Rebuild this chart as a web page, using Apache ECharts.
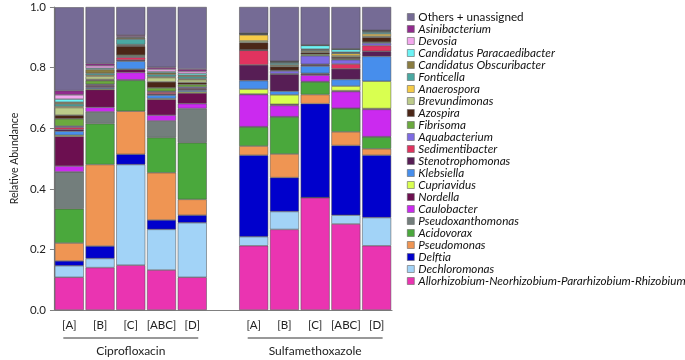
<!DOCTYPE html>
<html>
<head>
<meta charset="utf-8">
<script src="https://cdn.jsdelivr.net/npm/echarts@6/dist/echarts.min.js"></script>
<style>
  html, body { margin: 0; background: #fff; }
  #chart { width: 685px; height: 360px; }
</style>
</head>
<body>
<div id="chart"></div>
<script>
const samples = ['[A]', '[B]', '[C]', '[ABC]', '[D]']
const groups = ['Ciprofloxacin', 'Sulfamethoxazole']
const yTicks = [0, 0.2, 0.4, 0.6, 0.8, 1.0]

// each array: Ciprofloxacin A, B, C, ABC, D, then Sulfamethoxazole A, B, C, ABC, D
const allorhizobium     = [0.108, 0.140, 0.148, 0.132, 0.108, 0.212, 0.266, 0.371, 0.284, 0.212]
const dechloromonas     = [0.038, 0.030, 0.332, 0.134, 0.180, 0.030, 0.059, 0.000, 0.029, 0.093]
const delftia           = [0.016, 0.041, 0.034, 0.031, 0.025, 0.269, 0.112, 0.310, 0.230, 0.206]
const pseudomonas       = [0.059, 0.269, 0.142, 0.156, 0.052, 0.030, 0.078, 0.030, 0.045, 0.021]
const acidovorax        = [0.113, 0.135, 0.102, 0.116, 0.187, 0.063, 0.122, 0.042, 0.077, 0.039]
const pseudoxanthomonas = [0.122, 0.039, 0.002, 0.055, 0.113, 0.001, 0.001, 0.001, 0.001, 0.001]
const caulobacter       = [0.019, 0.015, 0.024, 0.019, 0.016, 0.106, 0.037, 0.021, 0.055, 0.090]
const nordella          = [0.098, 0.058, 0.009, 0.052, 0.035, 0.002, 0.004, 0.004, 0.003, 0.003]
const cupriavidus       = [0.004, 0.003, 0.002, 0.003, 0.004, 0.016, 0.031, 0.002, 0.015, 0.090]
const klebsiella        = [0.013, 0.004, 0.026, 0.011, 0.005, 0.028, 0.012, 0.024, 0.022, 0.082]
const stenotrophomonas  = [0.006, 0.005, 0.004, 0.004, 0.004, 0.052, 0.056, 0.004, 0.035, 0.017]
const sedimentibacter   = [0.007, 0.003, 0.009, 0.006, 0.003, 0.048, 0.002, 0.002, 0.016, 0.019]
const aquabacterium     = [0.004, 0.003, 0.003, 0.003, 0.004, 0.001, 0.009, 0.028, 0.014, 0.008]
const fibrisoma         = [0.024, 0.012, 0.004, 0.011, 0.008, 0.001, 0.002, 0.005, 0.003, 0.003]
const azospira          = [0.012, 0.004, 0.030, 0.020, 0.007, 0.024, 0.012, 0.006, 0.006, 0.016]
const brevundimonas     = [0.025, 0.010, 0.003, 0.014, 0.009, 0.005, 0.003, 0.003, 0.004, 0.004]
const anaerospora       = [0.004, 0.004, 0.002, 0.003, 0.003, 0.020, 0.003, 0.003, 0.007, 0.007]
const fonticella        = [0.008, 0.006, 0.018, 0.007, 0.007, 0.002, 0.006, 0.003, 0.003, 0.006]
const obscuribacter     = [0.006, 0.013, 0.004, 0.006, 0.005, 0.001, 0.002, 0.002, 0.002, 0.002]
const paracaedibacter   = [0.010, 0.004, 0.002, 0.004, 0.006, 0.001, 0.002, 0.012, 0.009, 0.002]
const devosia           = [0.014, 0.008, 0.003, 0.008, 0.007, 0.001, 0.001, 0.001, 0.001, 0.001]
const asinibacterium    = [0.014, 0.007, 0.004, 0.006, 0.007, 0.001, 0.001, 0.001, 0.001, 0.001]
const others            = [0.275, 0.187, 0.093, 0.199, 0.205, 0.086, 0.179, 0.125, 0.138, 0.077]

// bottom of the stack first
const taxa = [
  ['Allorhizobium-Neorhizobium-Pararhizobium-Rhizobium', '#EA34B1', allorhizobium],
  ['Dechloromonas', '#A2D3F7', dechloromonas],
  ['Delftia', '#0000CC', delftia],
  ['Pseudomonas', '#EF9553', pseudomonas],
  ['Acidovorax', '#4AA83C', acidovorax],
  ['Pseudoxanthomonas', '#737E7C', pseudoxanthomonas],
  ['Caulobacter', '#CB2AEF', caulobacter],
  ['Nordella', '#6C0F50', nordella],
  ['Cupriavidus', '#D9FF50', cupriavidus],
  ['Klebsiella', '#478EEC', klebsiella],
  ['Stenotrophomonas', '#571E55', stenotrophomonas],
  ['Sedimentibacter', '#E0335F', sedimentibacter],
  ['Aquabacterium', '#7E6BE3', aquabacterium],
  ['Fibrisoma', '#6BA93E', fibrisoma],
  ['Azospira', '#4B2617', azospira],
  ['Brevundimonas', '#BCCB8A', brevundimonas],
  ['Anaerospora', '#F6CB47', anaerospora],
  ['Fonticella', '#4AA8A2', fonticella],
  ['Candidatus Obscuribacter', '#8A7C40', obscuribacter],
  ['Candidatus Paracaedibacter', '#6CF3F5', paracaedibacter],
  ['Devosia', '#F3A7EE', devosia],
  ['Asinibacterium', '#922A8E', asinibacterium],
  ['Others + unassigned', '#756B95', others]
]

// one empty slot between the two antibiotic groups
const categories = [...samples, '', ...samples]
const withGap = v => [...v.slice(0, 5), '-', ...v.slice(5)]

const chart = echarts.init(document.getElementById('chart'))

const series = taxa.map(([name, color, values]) => ({
  name,
  type: 'bar',
  stack: 'total',
  barWidth: 29,
  data: withGap(values),
  itemStyle: { color, borderColor: '#4a4a4a', borderWidth: 0.5 },
  emphasis: { disabled: true }
}))

chart.setOption({
  animation: false,
  textStyle: { fontFamily: 'Lato' },
  grid: { left: 47, right: 293, top: 7, bottom: 50 },
  legend: {
    orient: 'vertical',
    left: 402,
    top: 6,
    itemWidth: 7,
    itemHeight: 7,
    itemGap: 0,
    icon: 'rect',
    data: taxa.map(t => t[0]).reverse(),
    itemStyle: { borderColor: '#666', borderWidth: 0.6 },
    formatter: name => name === 'Others + unassigned' ? '{n|' + name + '}' : '{i|' + name + '}',
    textStyle: {
      padding: [0, 0, 0, -1],
      rich: {
        n: { fontSize: 11.7, color: '#111', lineHeight: 13.4, fontFamily: 'Lato' },
        i: { fontSize: 11.7, color: '#111', lineHeight: 13.4, fontStyle: 'italic', fontFamily: 'Lato' }
      }
    }
  },
  xAxis: {
    type: 'category',
    data: categories,
    axisLine: { lineStyle: { color: '#808080', width: 1.2 } },
    axisTick: { show: false },
    axisLabel: { color: '#222', fontSize: 11.5, margin: 9, interval: 0 }
  },
  yAxis: {
    type: 'value',
    min: 0,
    max: 1,
    interval: 0.2,
    name: 'Relative Abundance',
    nameLocation: 'middle',
    nameGap: 34,
    nameTextStyle: { color: '#222', fontSize: 10.5 },
    splitLine: { show: false },
    axisLine: { show: true, lineStyle: { color: '#808080', width: 1.2 } },
    axisTick: { show: true, length: 4, lineStyle: { color: '#808080' } },
    axisLabel: { color: '#222', fontSize: 11.5, formatter: v => v.toFixed(1) }
  },
  series
})

// group brackets under the sample labels, placed through the category axis
function drawGroups () {
  const elements = []
  groups.forEach((g, gi) => {
    const first = chart.convertToPixel({ xAxisIndex: 0 }, gi * 6)
    const last = chart.convertToPixel({ xAxisIndex: 0 }, gi * 6 + 4)
    const y = chart.convertToPixel({ yAxisIndex: 0 }, 0)
    elements.push({
      type: 'line',
      shape: { x1: first - 6, y1: y + 28, x2: last + 6, y2: y + 28 },
      style: { stroke: '#333', lineWidth: 1 }
    })
    elements.push({
      type: 'text',
      x: (first + last) / 2,
      y: y + 41,
      style: { text: g, fill: '#222', font: '12px Lato', align: 'center', verticalAlign: 'middle' }
    })
  })
  chart.setOption({ graphic: elements })
}
drawGroups()
</script>
</body>
</html>
